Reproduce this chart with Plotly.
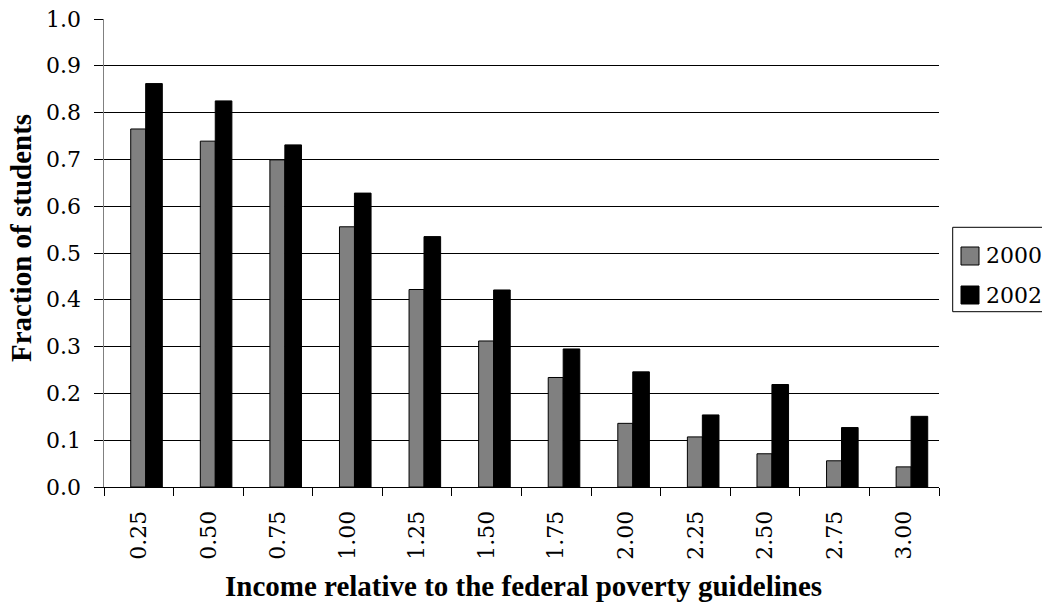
import plotly.graph_objects as go

categories = ["0.25", "0.50", "0.75", "1.00", "1.25", "1.50",
              "1.75", "2.00", "2.25", "2.50", "2.75", "3.00"]
values_2000 = [0.765, 0.739, 0.699, 0.556, 0.422, 0.312,
               0.234, 0.136, 0.107, 0.071, 0.056, 0.043]
values_2002 = [0.862, 0.825, 0.731, 0.628, 0.535, 0.421,
               0.295, 0.246, 0.154, 0.219, 0.127, 0.151]
series_names = ["2000", "2002"]
series_colors = ["#808080", "#000000"]
y_ticks = [i / 10 for i in range(11)]
y_tick_labels = [f"{v:.1f}" for v in y_ticks]

FONT_B = "Liberation Serif"   # bold titles
FONT_R = "DejaVu Serif"       # regular text
FS = 22
TFS = 29

W, H = 1042, 604
L, R, T, B = 104, 103, 19, 117
PW, PH = W - L - R, H - T - B


def px_x(x):
    return (x - L) / PW


def px_y(y):
    return 1 - (y - T) / PH


fig = go.Figure()
offsets = [-0.116, 0.099]
widths = [0.216, 0.239]
for name, vals, col, off, wd in zip(series_names, [values_2000, values_2002],
                                    series_colors, offsets, widths):
    fig.add_trace(go.Bar(
        x=categories, y=vals, name=name,
        marker=dict(color=col, line=dict(color="#000000", width=1)),
        offset=off, width=wd, showlegend=False,
    ))

shapes = [
    dict(type="rect", xref="paper", yref="paper",
         x0=px_x(952.7), x1=px_x(1046), y0=px_y(311.7), y1=px_y(227.3),
         line=dict(color="#000000", width=1), fillcolor="white", layer="above"),
]
annotations = []
sym_tops = [247, 286]
text_cy = [255, 295]
for name, col, st, cy in zip(series_names, series_colors, sym_tops, text_cy):
    shapes.append(dict(type="rect", xref="paper", yref="paper",
                       x0=px_x(961), x1=px_x(979), y0=px_y(st + 18), y1=px_y(st),
                       line=dict(color="#000000", width=1), fillcolor=col, layer="above"))
    annotations.append(dict(text=name, xref="paper", yref="paper",
                            x=px_x(984), y=px_y(cy), xanchor="left", yanchor="middle",
                            showarrow=False, font=dict(family=FONT_R, size=FS, color="black")))

# y tick labels placed through the y axis scale
for v, lab in zip(y_ticks, y_tick_labels):
    annotations.append(dict(text=lab, xref="paper", yref="y", x=px_x(83), y=v,
                            xanchor="right", yanchor="middle", showarrow=False,
                            font=dict(family=FONT_R, size=FS, color="black")))

annotations.append(dict(text="<b>Income relative to the federal poverty guidelines</b>",
                        xref="paper", yref="paper", x=px_x(523), y=px_y(586),
                        xanchor="center", yanchor="middle", showarrow=False,
                        font=dict(family=FONT_B, size=TFS, color="black")))
annotations.append(dict(text="<b>Fraction of students</b>",
                        xref="paper", yref="paper", x=px_x(21), y=px_y(238),
                        xanchor="center", yanchor="middle", showarrow=False, textangle=-90,
                        font=dict(family=FONT_B, size=TFS, color="black")))

fig.update_layout(
    width=W, height=H,
    margin=dict(l=L, r=R, t=T, b=B, autoexpand=False),
    paper_bgcolor="white", plot_bgcolor="white",
    barmode="overlay",
    font=dict(family=FONT_R, size=FS, color="black"),
    shapes=shapes, annotations=annotations,
    showlegend=False,
)
fig.update_xaxes(
    type="category", tickson="boundaries", ticks="outside", ticklen=8,
    tickcolor="#000000", tickwidth=1, showline=True, linecolor="#000000", linewidth=1,
    showgrid=False, tickangle=-90, ticklabelstandoff=14,
    tickfont=dict(family=FONT_R, size=FS, color="black"),
    range=[-0.5, len(categories) - 0.5], automargin=False,
)
fig.update_yaxes(
    range=[0, 1.0], tickvals=y_ticks, showticklabels=False,
    ticks="outside", ticklen=9, tickcolor="#000000", tickwidth=1,
    showline=True, linecolor="#808080", linewidth=1,
    showgrid=True, gridcolor="#000000", gridwidth=1, zeroline=False,
    automargin=False,
)

fig.write_html("out.html")
